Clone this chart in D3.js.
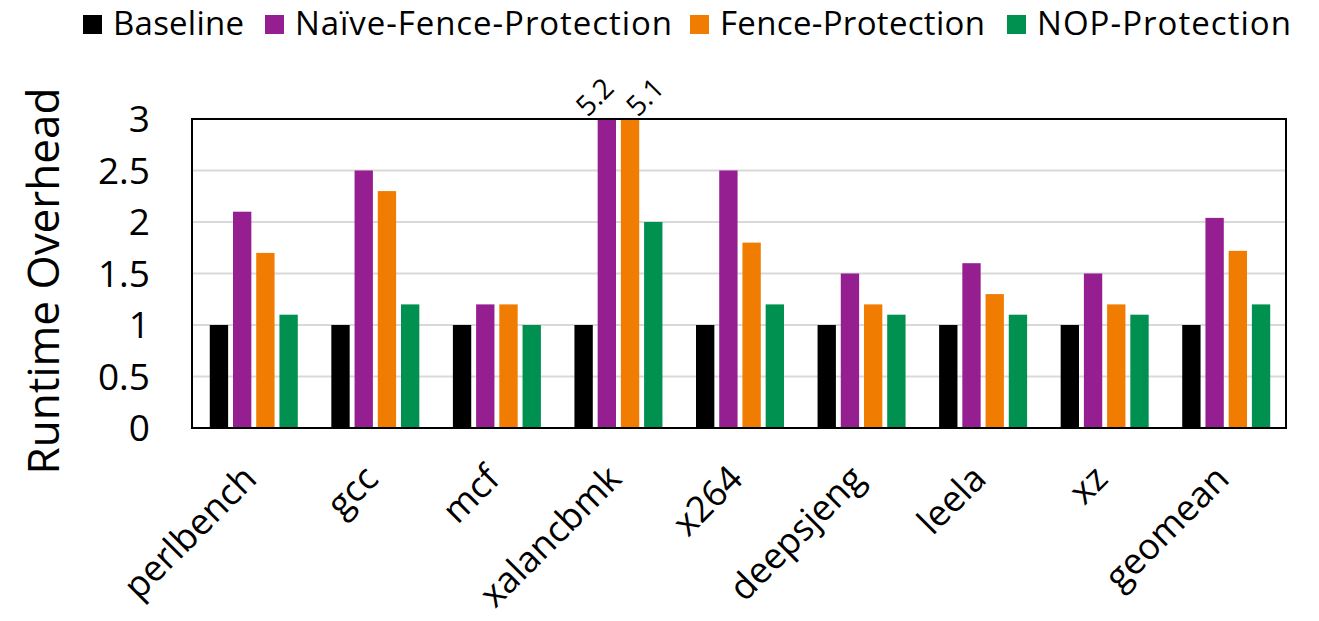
<!DOCTYPE html>
<html>
<head>
<meta charset="utf-8">
<script src="https://cdn.jsdelivr.net/npm/d3@7"></script>
<style>
  html, body { margin: 0; padding: 0; background: #fff; }
  svg { display: block; font-family: "Open Sans", sans-serif; }
</style>
</head>
<body>
<svg id="chart" width="1319" height="621"></svg>
<script>
const categories = ["perlbench", "gcc", "mcf", "xalancbmk", "x264", "deepsjeng", "leela", "xz", "geomean"];
const seriesNames = ["Baseline", "Naïve-Fence-Protection", "Fence-Protection", "NOP-Protection"];
const baseline   = [1, 1, 1, 1, 1, 1, 1, 1, 1];
const naiveFence = [2.1, 2.5, 1.2, 5.2, 2.5, 1.5, 1.6, 1.5, 2.04];
const fence      = [1.7, 2.3, 1.2, 5.1, 1.8, 1.2, 1.3, 1.2, 1.72];
const nop        = [1.1, 1.2, 1.0, 2.0, 1.2, 1.1, 1.1, 1.1, 1.2];
const yTicks = [0, 0.5, 1, 1.5, 2, 2.5, 3];
const yTickLabels = ["0", "0.5", "1", "1.5", "2", "2.5", "3"];
const colors = ["#000000", "#951F90", "#F07C02", "#00904F"];

const seriesValues = [baseline, naiveFence, fence, nop];

const svg = d3.select("#chart");
const plot = { left: 192, right: 1286, top: 119, bottom: 428 };

const x0 = d3.scaleBand().domain(categories).range([plot.left, plot.right]).paddingInner(0).paddingOuter(0);
const x1 = d3.scaleBand().domain(d3.range(4)).range([0, 88]).paddingInner(0.21).paddingOuter(0);
const groupOffset = (x0.bandwidth() - 88) / 2 + 1;
const y = d3.scaleLinear().domain([0, 3]).range([plot.bottom, plot.top]).clamp(true);

// gridlines
svg.append("g")
  .selectAll("line")
  .data(yTicks.filter(v => v > 0 && v < 3))
  .join("line")
  .attr("x1", plot.left).attr("x2", plot.right)
  .attr("y1", d => y(d)).attr("y2", d => y(d))
  .attr("stroke", "#d9d9d9").attr("stroke-width", 2);

// bars
const rows = [];
categories.forEach((c, i) => {
  seriesValues.forEach((s, j) => rows.push({ cat: c, s: j, v: s[i] }));
});
svg.append("g")
  .selectAll("rect")
  .data(rows)
  .join("rect")
  .attr("x", d => x0(d.cat) + groupOffset + x1(d.s))
  .attr("width", x1.bandwidth())
  .attr("y", d => y(d.v))
  .attr("height", d => y(0) - y(d.v))
  .attr("fill", d => colors[d.s]);

// value labels for clipped bars
svg.append("g")
  .selectAll("text")
  .data(rows.filter(d => d.v > 3))
  .join("text")
  .attr("transform", d => {
    const cx = x0(d.cat) + groupOffset + x1(d.s) + x1.bandwidth() / 2 + (d.s === 1 ? -13 : 14);
    return `translate(${cx},${y(3) - 23}) rotate(-45)`;
  })
  .attr("text-anchor", "middle")
  .attr("dominant-baseline", "central")
  .attr("font-size", 28)
  .attr("fill", "#000")
  .text(d => d3.format(".1f")(d.v));

// frame
svg.append("rect")
  .attr("x", plot.left).attr("y", plot.top)
  .attr("width", plot.right - plot.left).attr("height", plot.bottom - plot.top)
  .attr("fill", "none").attr("stroke", "#000").attr("stroke-width", 2);

// y axis labels
const yAxis = d3.axisLeft(y).tickValues(yTicks).tickFormat((d, i) => yTickLabels[i]).tickSize(0).tickPadding(0);
const yg = svg.append("g").attr("transform", `translate(150,0)`).call(yAxis);
yg.select(".domain").remove();
yg.selectAll("text").attr("font-size", 37).attr("font-family", "Open Sans").attr("fill", "#000").attr("dy", "0.35em");

// x axis labels
const xAxis = d3.axisBottom(x0).tickSize(0).tickPadding(0);
const xg = svg.append("g").call(xAxis);
xg.select(".domain").remove();
xg.selectAll(".tick").attr("transform", d => `translate(${x0(d) + x0.bandwidth() / 2 - 3},472)`);
xg.selectAll("text")
  .attr("font-size", 36).attr("font-family", "Open Sans").attr("fill", "#000")
  .attr("text-anchor", "end")
  .attr("y", 0).attr("dy", "0.35em")
  .attr("transform", "rotate(-45)");

// y title
svg.append("text")
  .attr("transform", `translate(59,281) rotate(-90)`)
  .attr("text-anchor", "middle")
  .attr("font-size", 44)
  .attr("fill", "#000")
  .text("Runtime Overhead");

// legend
const legendX = [83, 265, 690, 1007];
const legendW = [131, 377, 265, 254];
const legend = svg.append("g");
seriesNames.forEach((name, i) => {
  legend.append("rect").attr("x", legendX[i]).attr("y", 15).attr("width", 19).attr("height", 19).attr("fill", colors[i]);
  legend.append("text").attr("x", legendX[i] + 30).attr("y", 35).attr("font-size", 33)
    .attr("textLength", legendW[i]).attr("lengthAdjust", "spacing")
    .attr("fill", "#000").text(name);
});
</script>
</body>
</html>
